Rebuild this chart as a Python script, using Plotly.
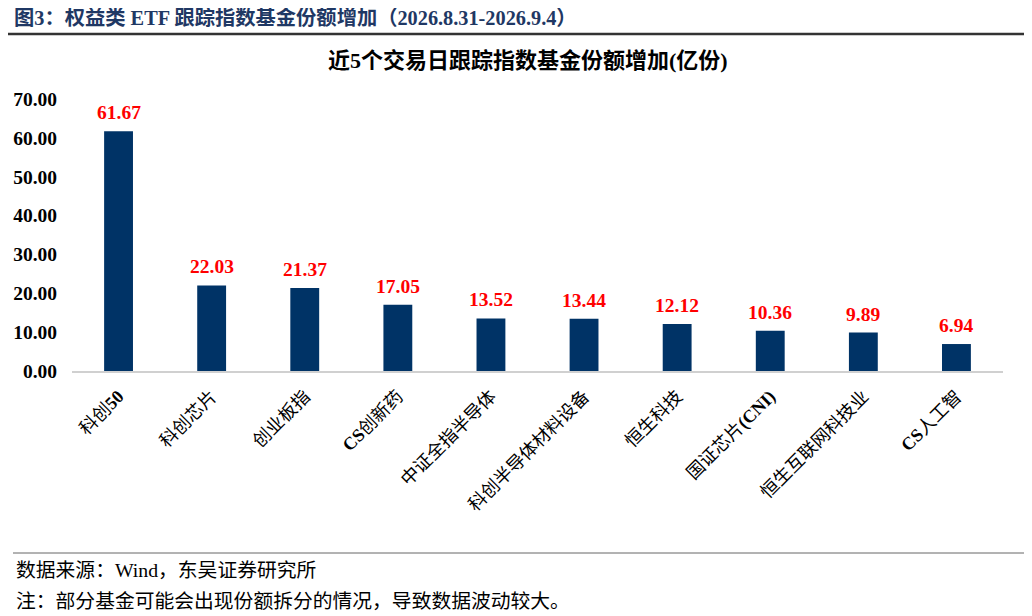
import re
import plotly.graph_objects as go

categories = ['科创50', '科创芯片', '创业板指', 'CS创新药', '中证全指半导体',
              '科创半导体材料设备', '恒生科技', '国证芯片(CNI)', '恒生互联网科技业', 'CS人工智']
values = [61.67, 22.03, 21.37, 17.05, 13.52, 13.44, 12.12, 10.36, 9.89, 6.94]
y_ticks = [0, 10, 20, 30, 40, 50, 60, 70]

SERIF = 'Times New Roman, Liberation Serif, Noto Sans CJK SC, serif'
CJK = 'Liberation Serif, Noto Sans CJK SC, serif'

# plot area is 272 px tall (screen y 99..371); paper coords for things outside it
PH = 272
PW = 931


def px(x):
    return (x - 72) / PW


def py(y):
    return (371 - y) / PH


def bold_latin(s):
    # latin bits of the category names are set in bold Times in the original
    return re.sub(r'([A-Za-z0-9()]+)', r'<b>\1</b>', s)


fig = go.Figure(go.Bar(
    x=categories,
    y=values,
    marker=dict(color='#003366', line=dict(width=0)),
    width=0.31,
))

# value labels, a bit above the bars
for c, v in zip(categories, values):
    fig.add_annotation(
        x=c, y=v, text=f'<b>{v:.2f}</b>', showarrow=False,
        yanchor='bottom', yshift=6,
        font=dict(family=SERIF, size=19.5, color='#FF0000'),
    )

# page body has an 8px margin, so the figure is drawn 8px in from the window edge
fig.update_layout(
    width=1024, height=608,
    margin=dict(l=64, r=29, t=91, b=245),
    paper_bgcolor='white', plot_bgcolor='white',
    showlegend=False,
    font=dict(family=CJK, color='black'),
)

fig.update_yaxes(
    range=[0, 70], tickvals=y_ticks,
    ticktext=[f'{v:.2f}' for v in y_ticks],
    showgrid=False, zeroline=False, showline=False,
    tickfont=dict(family=SERIF, size=19.5, color='black', weight='bold'),
    ticks='', ticklabelstandoff=14, automargin=False,
)
fig.update_xaxes(
    showline=True, linecolor='#d0d0d0', linewidth=1.5,
    tickangle=-45, ticks='', ticklabelstandoff=6, automargin=False,
    tickvals=categories, ticktext=[bold_latin(c) for c in categories],
    tickfont=dict(family=CJK, size=18, color='black'),
)

# header and footer
fig.add_annotation(
    text='<b>图3：权益类 ETF 跟踪指数基金份额增加（2026.8.31-2026.9.4）</b>',
    xref='paper', yref='paper', x=px(12), y=py(18), xanchor='left', yanchor='middle',
    showarrow=False,
    font=dict(family=CJK, size=20.3, color='#1F3864'),
)
fig.add_shape(type='line', xref='paper', yref='paper', x0=px(5), x1=px(1026),
              y0=py(34), y1=py(34),
              line=dict(color='#333333', width=2.5))
fig.add_annotation(
    text='<b>近5个交易日跟踪指数基金份额增加(亿份)</b>',
    xref='paper', yref='paper', x=px(528), y=py(60), yanchor='middle',
    showarrow=False,
    font=dict(family=CJK, size=22, color='black'),
)
fig.add_shape(type='line', xref='paper', yref='paper', x0=px(13), x1=px(1032),
              y0=py(553), y1=py(553),
              line=dict(color='#666666', width=1))
fig.add_annotation(
    text='数据来源：Wind，东吴证券研究所',
    xref='paper', yref='paper', x=px(14), y=py(570), xanchor='left', yanchor='middle',
    showarrow=False, font=dict(family=CJK, size=19.8, color='black'),
)
fig.add_annotation(
    text='注：部分基金可能会出现份额拆分的情况，导致数据波动较大。',
    xref='paper', yref='paper', x=px(14), y=py(601), xanchor='left', yanchor='middle',
    showarrow=False, font=dict(family=CJK, size=19.8, color='black'),
)

fig.write_html('out.html')
